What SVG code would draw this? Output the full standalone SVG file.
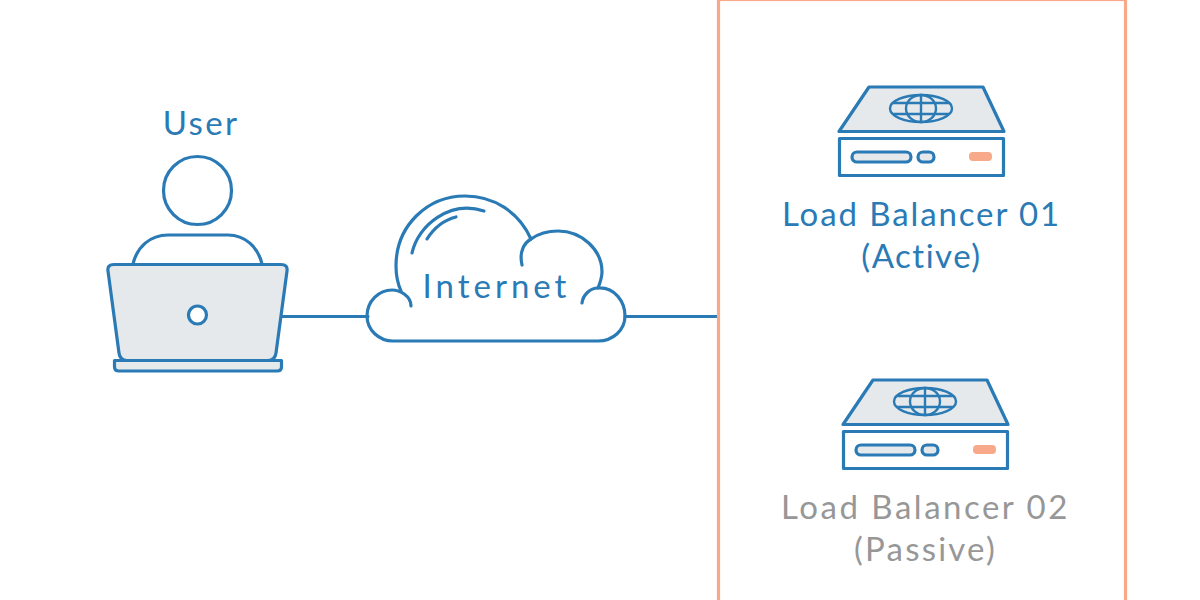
<svg xmlns="http://www.w3.org/2000/svg" width="1200" height="600" viewBox="0 0 1200 600">
<style>
.l{fill:none;stroke:#2a7ab5;stroke-width:3.200;stroke-linecap:round;stroke-linejoin:round}
.th{stroke-width:2.400}
.f{fill:#e5e9eb;stroke:#2a7ab5;stroke-width:3.200;stroke-linejoin:round}
.w{fill:#fff;stroke:#2a7ab5;stroke-width:3.200;stroke-linejoin:round}
.t{font-family:Lato,"Open Sans",sans-serif;font-size:33px;text-anchor:middle;fill:#2a7ab5;letter-spacing:1.500px}
.g{fill:#979797}
.o{fill:#f7a98a}
</style>
<defs>
<g id="server">
<path class="f" d="M869,87H983L1004,131.500H839Z"/>
<ellipse class="l th" cx="921" cy="108.500" rx="31" ry="13.500"/>
<ellipse class="l th" cx="921" cy="108.500" rx="15" ry="13.500"/>
<path class="l th" d="M921,95V122M893,103H949M893,114H949"/>
<rect class="w" x="839.500" y="138.500" width="164" height="37"/>
<rect class="f" x="852" y="152" width="59" height="10" rx="5"/>
<rect class="f" x="918" y="152" width="16" height="10" rx="5"/>
<rect class="o" x="969" y="152" width="23" height="9" rx="4"/>
</g>
</defs>
<g id="connectors">
<path class="l" stroke-linecap="butt" d="M282,316.500H368M625,316.500H718"/>
</g>
<g id="user">
<text class="t" x="201" y="135" style="letter-spacing:2.300px">User</text>
<circle class="l" cx="197.500" cy="190.500" r="34"/>
<path class="l" d="M133,264C137,247 150,235 168,235H228C245,235 258,247 262,264"/>
<path class="f" d="M114,264.500H281Q288,264.500 287,271L276,353Q275,360.500 268,360.500H127Q120,360.500 119,353L108,271Q107,264.500 114,264.500Z"/>
<circle class="w" cx="197.500" cy="315" r="9"/>
<path class="f" d="M114.500,360.500H281.500V367Q281.500,371 277,371H119Q114.500,371 114.500,367Z"/>
</g>
<g id="internet">
<path class="l" d="M401,291C397,282 396,274 396,266C396,226 427,196 465,196C494,196 519,212 531,239C538,234 547,231 558,231C582,231 602,250 602,272C602,278 600,283 598,288C615,287 625,302 625,316C625,330 613,341 598,341H393C379,341 367,330 367,316C367,301 379,290 392,290C400,290 411,296 411,306"/>
<path class="l" d="M522,265C519,252 524,243 531,239M598,288C590,288 583,295 582,303"/>
<path class="l" d="M412,253C418,225 450,200 484,211M427,239C434,228 444,220 456,217"/>
<text class="t" x="496.500" y="298" style="letter-spacing:4px">Internet</text>
</g>
<g id="lb-group">
<rect x="718.500" y="-0.500" width="407" height="615" fill="none" stroke="#f7a98a" stroke-width="3.200"/>
</g>
<g id="lb1">
<use href="#server"/>
<text class="t" x="921.500" y="226" style="letter-spacing:1.900px">Load Balancer 01</text>
<text class="t" x="921.500" y="268">(Active)</text>
</g>
<g id="lb2">
<use href="#server" x="4" y="293"/>
<text class="t g" x="925.500" y="519" style="letter-spacing:2.500px">Load Balancer 02</text>
<text class="t g" x="925.500" y="561" style="letter-spacing:2.200px">(Passive)</text>
</g>
</svg>
